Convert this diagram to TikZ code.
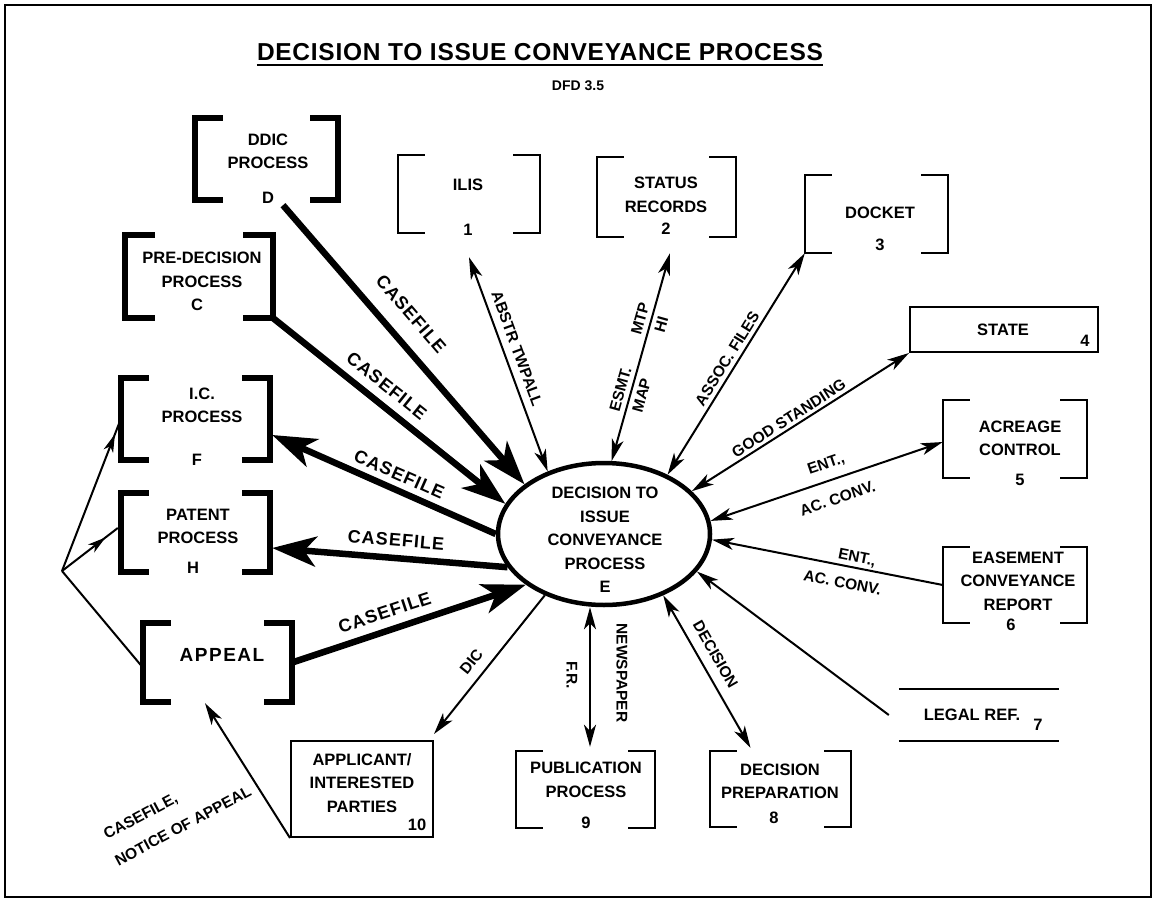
\documentclass[tikz,border=0pt]{standalone}
\usepackage{fontspec}
\setmainfont{Liberation Sans}
\usetikzlibrary{arrows.meta,calc,decorations.markings,shapes.geometric}
\newcommand\drawbrackets[3]{%
  \draw[#3] ($(#1.north west)+(#2,0)$) -- (#1.north west) -- (#1.south west) -- ($(#1.south west)+(#2,0)$);
  \draw[#3] ($(#1.north east)+(-#2,0)$) -- (#1.north east) -- (#1.south east) -- ($(#1.south east)+(-#2,0)$);}
\begin{document}
\begin{tikzpicture}[x=1pt,y=-1pt,
  every node/.style={inner sep=0pt},
  bx/.style={rectangle, inner sep=0pt},
  thkbr/.style={line width=6pt, line join=miter},
  thnbr/.style={line width=2.5pt, line join=miter},
  txt/.style={font=\fontsize{16.5}{23.5}\selectfont\bfseries, align=center, inner sep=0pt},
  lbl/.style={font=\fontsize{15.5}{22}\selectfont\bfseries, inner sep=2pt},
  cf/.style={font=\fontsize{18}{20}\selectfont\bfseries\addfontfeature{LetterSpace=6}, inner sep=2pt},
  flow/.style={line width=2pt, >={Stealth[length=22pt,width=12pt,inset=6pt]}},
  bigflow/.style={line width=6.5pt, >={Stealth[length=44pt,width=30pt,inset=12pt]}},
  midarrow/.style={postaction={decorate, decoration={markings,
      mark=at position #1 with {\arrow{Stealth[length=18pt,width=10pt,inset=5pt]}}}}}
]
\fill[white] (0,0) rectangle (1154,899);
\useasboundingbox (0,0) rectangle (1154,899);
\draw[line width=1.5pt] (5,5) rectangle (1151,897);

% title
\node[font=\fontsize{24.5}{28}\selectfont\bfseries\addfontfeature{LetterSpace=3}] (title) at (540,52) {DECISION TO ISSUE CONVEYANCE PROCESS};
\draw[line width=2pt] ($(title.south west)+(0,4)$) -- ($(title.south east)+(0,4)$);
\node[font=\fontsize{14}{16}\selectfont\bfseries] (dfd) at (578,86) {DFD 3.5};

% central process
\node[draw, ellipse, line width=4.5pt, minimum width=212pt, minimum height=142pt] (E) at (604,534) {};
\node[txt] (Et) at (605,540) {DECISION TO\\ISSUE\\CONVEYANCE\\PROCESS\\E};

% boxes
\node[bx, minimum width=143pt, minimum height=82pt] (D) at (266.5,159) {};
\node[bx, minimum width=148pt, minimum height=83pt] (C) at (199,276.5) {};
\node[bx, minimum width=149pt, minimum height=82pt] (F) at (195.5,419) {};
\node[bx, minimum width=149pt, minimum height=79pt] (H) at (195.5,532.5) {};
\node[bx, minimum width=149pt, minimum height=79pt] (AP) at (217.5,662.5) {};
\node[bx, minimum width=142pt, minimum height=78pt] (n1) at (469,194) {};
\node[bx, minimum width=139pt, minimum height=80pt] (n2) at (666.5,197) {};
\node[bx, minimum width=143pt, minimum height=78pt] (n3) at (876.5,214) {};
\node[bx, draw, line width=2pt, minimum width=188pt, minimum height=45pt] (n4) at (1004,329.5) {};
\node[bx, minimum width=144pt, minimum height=78pt] (n5) at (1015,439) {};
\node[bx, minimum width=144pt, minimum height=76pt] (n6) at (1015,585) {};
\node[bx, minimum width=160pt, minimum height=52pt] (n7) at (979,715) {};
\node[bx, minimum width=141pt, minimum height=76pt] (n8) at (780.5,789) {};
\node[bx, minimum width=139pt, minimum height=77pt] (n9) at (585.5,789.5) {};
\node[bx, draw, line width=2pt, minimum width=142pt, minimum height=96pt] (n10) at (362,789) {};

\drawbrackets{D}{28}{thkbr}
\drawbrackets{C}{30}{thkbr}
\drawbrackets{F}{28}{thkbr}
\drawbrackets{H}{28}{thkbr}
\drawbrackets{AP}{28}{thkbr}
\drawbrackets{n1}{27}{thnbr}
\drawbrackets{n2}{27}{thnbr}
\drawbrackets{n3}{27}{thnbr}
\drawbrackets{n5}{27}{thnbr}
\drawbrackets{n6}{27}{thnbr}
\drawbrackets{n8}{27}{thnbr}
\drawbrackets{n9}{27}{thnbr}
\draw[line width=2.5pt] (n7.north west) -- (n7.north east);
\draw[line width=2.5pt] (n7.south west) -- (n7.south east);

% box texts
\node[txt] (Dt) at (268,151.5) {DDIC\\PROCESS};
\node[txt] (Dc) at (268,198) {D};
\node[txt] (Ct) at (202,270) {PRE-DECISION\\PROCESS};
\node[txt] (Cc) at (197,305) {C};
\node[txt] (Ft) at (202,405.5) {I.C.\\PROCESS};
\node[txt] (Fc) at (197,460) {F};
\node[txt] (Ht) at (198,526.5) {PATENT\\PROCESS};
\node[txt] (Hc) at (193,568) {H};
\node[txt, font=\fontsize{19}{22}\selectfont\bfseries\addfontfeature{LetterSpace=8}] (APt) at (222,655) {APPEAL};
\node[txt] (n1t) at (468,185) {ILIS};
\node[txt] (n1c) at (468,230) {1};
\node[txt] (n2t) at (666,195) {STATUS\\RECORDS};
\node[txt] (n2c) at (666,229) {2};
\node[txt] (n3t) at (880,213) {DOCKET};
\node[txt] (n3c) at (880,245) {3};
\node[txt] (n4t) at (1003,330) {STATE};
\node[txt] (n4c) at (1085,341) {4};
\node[txt] (n5t) at (1020,438.5) {ACREAGE\\CONTROL};
\node[txt] (n5c) at (1020,480) {5};
\node[txt] (n6t) at (1018,581) {EASEMENT\\CONVEYANCE\\REPORT};
\node[txt] (n6c) at (1011,625) {6};
\node[txt] (n7t) at (972,715) {LEGAL REF.};
\node[txt] (n7c) at (1038,725) {7};
\node[txt] (n8t) at (780,781.5) {DECISION\\PREPARATION};
\node[txt] (n8c) at (774,818) {8};
\node[txt] (n9t) at (586,780) {PUBLICATION\\PROCESS};
\node[txt] (n9c) at (586,823) {9};
\node[txt] (n10t) at (362,783) {APPLICANT/\\INTERESTED\\PARTIES};
\node[txt] (n10c) at (417,825) {10};

% thick casefile flows
\draw[bigflow,->] ($(D.south)+(16.5,5)$) -- node[cf,sloped,above=14pt,pos=.45] (lD) {CASEFILE} (E.148);
\draw[bigflow,->] (C.south east) -- node[cf,sloped,above=6.6pt,pos=.44] (lC) {CASEFILE} (E.163);
\draw[bigflow,->] (E.180) -- node[cf,sloped,above=3.8pt,pos=.46] (lF) {CASEFILE} ($(F.east)+(2,16)$);
\draw[bigflow,->] (E.199) -- node[cf,sloped,above=6.5pt,pos=.48] (lH) {CASEFILE} ($(H.east)+(2,15.5)$);
\draw[bigflow,->] (AP.east) -- node[cf,sloped,above=6.5pt,pos=.42] (lA) {CASEFILE} (E.213);

% thin flows
\draw[flow,<->] (E.132) -- node[lbl,sloped,above=5pt,pos=.55] (l1) {ABSTR TWPALL} ($(n1.south)+(0,24)$);
\draw[flow,<->] (E.84) -- node[lbl,sloped,align=center,pos=.33] (l2a) {ESMT.\\MAP}
  node[lbl,sloped,align=center,pos=.67] (l2b) {MTP\\HI} ($(n2.south)+(3.5,16)$);
\draw[flow,<->] (E.43) -- node[lbl,sloped,above=2pt,pos=.5] (l3) {ASSOC. FILES} (n3.south west);
\draw[flow,<->] (E.26) -- node[lbl,sloped,above=1pt,pos=.47] (l4) {GOOD STANDING} (n4.south west);
\draw[flow,<->] (E.7) -- node[lbl,sloped,above=6.5pt,pos=.52] (l5a) {ENT.,}
  node[lbl,sloped,below=11pt,pos=.52] (l5b) {AC. CONV.} ($(n5.west)+(0,3)$);
\draw[flow,->] (n6.west) -- node[lbl,sloped,above=0pt,pos=.38] (l6a) {ENT.,}
  node[lbl,sloped,below=8.5pt,pos=.42] (l6b) {AC. CONV.} (E.357);
\draw[flow,->] ($(n7.west)+(-10,0)$) -- (E.338);
\draw[flow,<->] (E.314) -- node[lbl,sloped,above=7.5pt,pos=.44] (l8) {DECISION} ($(n8.north)+(-30,-3)$);
\coordinate (pubTop) at ($(n9.north)+(4.5,-4)$);
\draw[flow,<->] (E.south -| pubTop) -- (pubTop);
\node[lbl, rotate=-90] (l9a) at (572,675) {F.R.};
\node[lbl, rotate=-90] (l9b) at (622,673) {NEWSPAPER};
\draw[flow,->] (E.226) -- node[lbl,sloped,above=7.5pt,pos=.55] (l10) {DIC} ($(n10.north east)+(0,-6)$);
\draw[flow,->] (n10.south west) -- ($(AP.south)+(-12.5,1)$);
\node[lbl, rotate=28] (l11a) at (141,817) {CASEFILE,};
\node[lbl, rotate=28] (l11b) at (183,826) {NOTICE OF APPEAL};

% fork from appeal
\coordinate (fork) at (62,571);
\draw[flow] ($(AP.west)+(0,5)$) -- (fork);
\draw[flow, midarrow=.9] (fork) -- (F.west);
\draw[flow, midarrow=.78] (fork) -- ($(H.west)+(-3,-4.5)$);
\end{tikzpicture}
\end{document}
